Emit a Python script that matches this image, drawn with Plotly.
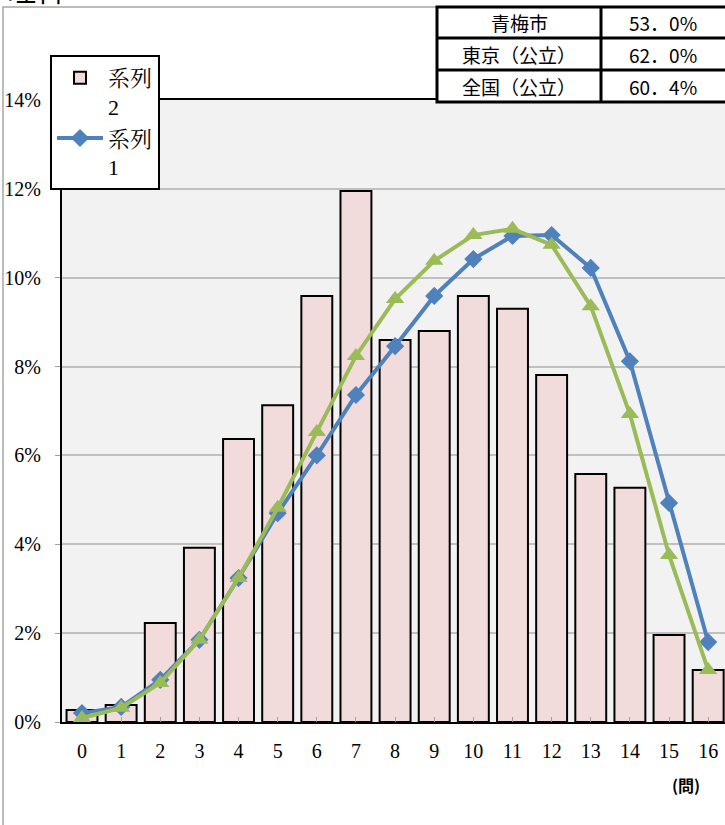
import plotly.graph_objects as go

categories = list(range(17))
series2_bars = [0.27, 0.38, 2.23, 3.92, 6.37, 7.13, 9.59, 11.95, 8.60, 8.80, 9.59, 9.30, 7.81, 5.58, 5.27, 1.96, 1.17]
series1_blue = [0.20, 0.34, 0.95, 1.85, 3.24, 4.70, 6.00, 7.36, 8.46, 9.59, 10.42, 10.94, 10.96, 10.22, 8.12, 4.93, 1.80]
series3_green = [0.09, 0.32, 0.88, 1.85, 3.24, 4.82, 6.53, 8.24, 9.52, 10.38, 10.96, 11.10, 10.74, 9.36, 6.93, 3.76, 1.17]
y_ticks = [0, 2, 4, 6, 8, 10, 12, 14]
y_tick_labels = ["0%", "2%", "4%", "6%", "8%", "10%", "12%", "14%"]
table_rows = [["青梅市", "53．0%"], ["東京（公立）", "62．0%"], ["全国（公立）", "60．4%"]]

W, H = 725, 825
L, R, T, B = 62, 0, 100, 103
PW, PH = W - L - R, H - T - B


def px(x):
    return (x - L) / PW


def py(y):
    return (H - B - y) / PH


serif = "Liberation Serif, Noto Serif CJK JP, Noto Sans CJK JP, serif"
gothic = "Noto Sans CJK JP, sans-serif"

fig = go.Figure()
fig.add_trace(go.Bar(
    x=categories, y=series2_bars, name="系列<br>2",
    marker=dict(color="#F2DCDB", line=dict(color="black", width=2)),
    width=0.79,
))
fig.add_trace(go.Scatter(
    x=categories, y=series1_blue, name="系列<br>1", mode="lines+markers",
    line=dict(color="#4F81BD", width=4),
    marker=dict(symbol="diamond", size=14, color="#4F81BD"),
))
fig.add_trace(go.Scatter(
    x=categories, y=series3_green, name="系列3", mode="lines+markers",
    line=dict(color="#9BBB59", width=4),
    marker=dict(symbol="triangle-up", size=16, color="#9BBB59"),
    showlegend=False,
))

shapes = []
annotations = []

# outer chart border
shapes.append(dict(type="rect", xref="paper", yref="paper", x0=px(3), x1=px(735), y0=py(7), y1=py(835),
                   line=dict(color="#A6A6A6", width=1.5), fillcolor="rgba(0,0,0,0)", layer="below"))

# table
tx0, tx1, tmid = 437, 735, 601
ty = [7, 38, 70, 102]
shapes.append(dict(type="rect", xref="paper", yref="paper", x0=px(tx0), x1=px(tx1), y0=py(ty[0]), y1=py(ty[3]),
                   line=dict(color="black", width=3), fillcolor="white", layer="above"))
for yy in ty[1:3]:
    shapes.append(dict(type="line", xref="paper", yref="paper", x0=px(tx0), x1=px(tx1), y0=py(yy), y1=py(yy),
                       line=dict(color="black", width=3), layer="above"))
shapes.append(dict(type="line", xref="paper", yref="paper", x0=px(tmid), x1=px(tmid), y0=py(ty[0]), y1=py(ty[3]),
                   line=dict(color="black", width=3), layer="above"))
for i, (lab, val) in enumerate(table_rows):
    yc = (ty[i] + ty[i + 1]) / 2
    annotations.append(dict(xref="paper", yref="paper", x=px(519), y=py(yc), text=lab, showarrow=False,
                            font=dict(family=gothic, size=19, color="black"), xanchor="center", yanchor="middle"))
    annotations.append(dict(xref="paper", yref="paper", x=px(663), y=py(yc), text=val, showarrow=False,
                            font=dict(family=gothic, size=19, color="black"), xanchor="center", yanchor="middle"))

# title (cut off at top, as in the reference)
annotations.append(dict(xref="paper", yref="paper", x=px(6), y=py(12), text="理科", showarrow=False,
                        font=dict(family=gothic, size=28, color="black"), xanchor="left", yanchor="bottom"))
# axis unit
annotations.append(dict(xref="paper", yref="paper", x=px(686), y=py(785), text="<b>(問)</b>", showarrow=False,
                        font=dict(family=gothic, size=16, color="black"), xanchor="center", yanchor="middle"))

fig.update_layout(
    width=W, height=H,
    margin=dict(l=L, r=R, t=T, b=B, pad=0),
    paper_bgcolor="white",
    plot_bgcolor="#F2F2F2",
    shapes=shapes,
    annotations=annotations,
    legend=dict(
        x=px(50), y=py(55), xanchor="left", yanchor="top",
        bgcolor="white", bordercolor="black", borderwidth=2,
        font=dict(family=serif, size=22, color="black"),
        valign="top", itemwidth=46, tracegroupgap=0,
    ),
    xaxis=dict(
        range=[-0.511, 16.43], tickmode="array", tickvals=categories,
        ticktext=[str(c) for c in categories],
        tickson="boundaries", ticks="inside", ticklen=5, tickcolor="#A0A0A0",
        showline=True, linecolor="black", linewidth=2, mirror=True,
        showgrid=False, zeroline=False,
        tickfont=dict(family=serif, size=20, color="black"),
        ticklabelstandoff=10,
    ),
    yaxis=dict(
        range=[0, 14], tickmode="array", tickvals=y_ticks, ticktext=y_tick_labels,
        ticks="outside", ticklen=5, tickcolor="#A0A0A0",
        showline=True, linecolor="black", linewidth=2,
        showgrid=True, gridcolor="#C0C0C0", gridwidth=1.5, zeroline=False,
        tickfont=dict(family=serif, size=20, color="black"),
        ticklabelstandoff=10,
    ),
)

fig.write_html(
    "out.html",
    config={"displayModeBar": False},
    post_script="document.body.style.margin='0';document.body.style.padding='0';document.body.style.overflow='hidden';",
)
